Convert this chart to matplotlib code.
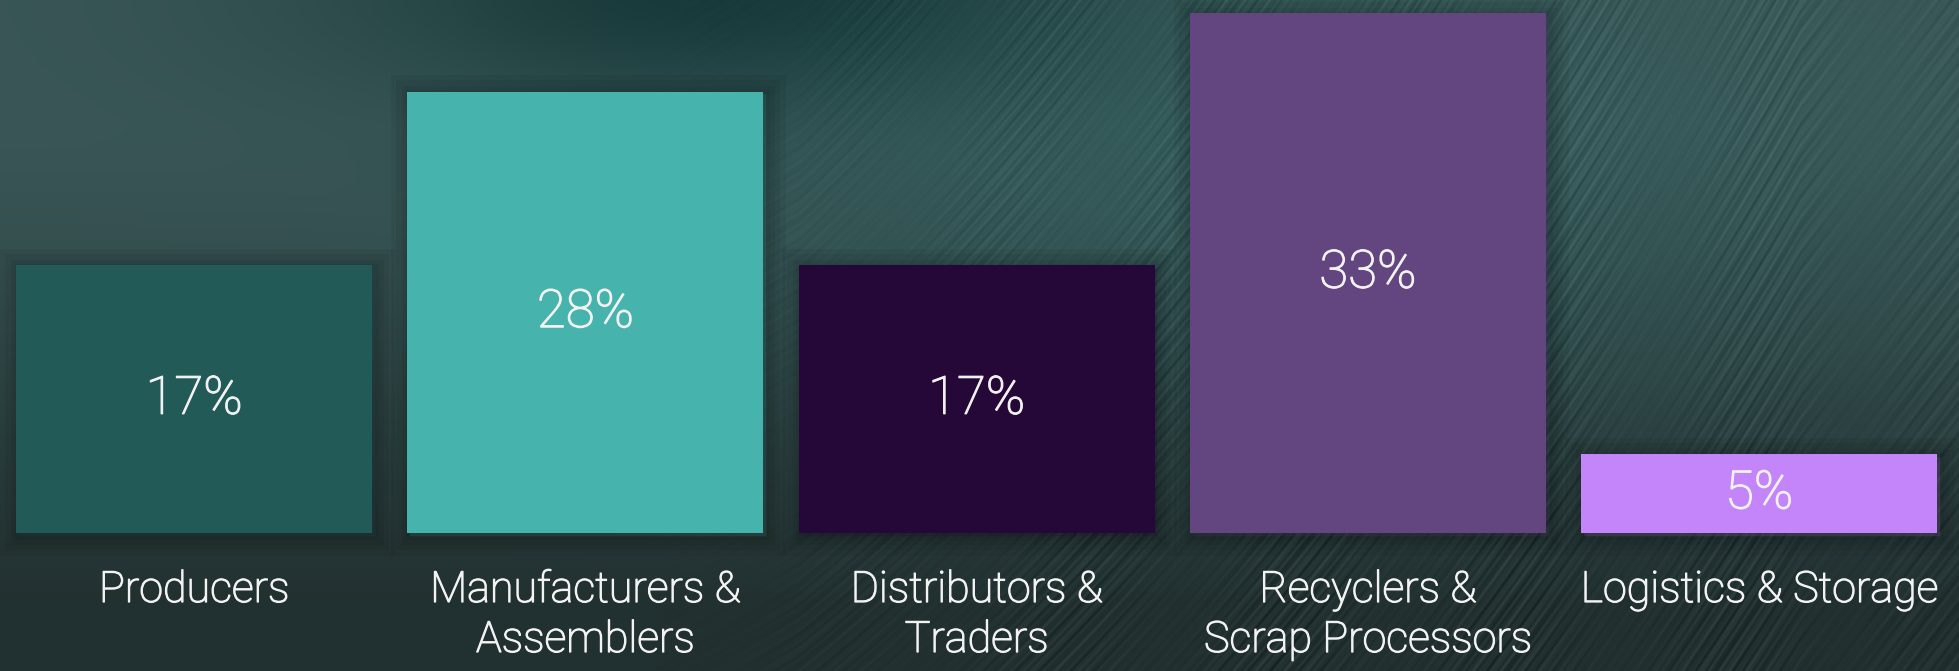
import numpy as np
import matplotlib
matplotlib.use("Agg")
import matplotlib.pyplot as plt
import matplotlib.patheffects as pe

# share of companies by segment (%)
categories = ["Producers", "Manufacturers &\nAssemblers", "Distributors &\nTraders",
              "Recyclers &\nScrap Processors", "Logistics & Storage"]
shares = [17, 28, 17, 33, 5]
bar_colors = ["#225a58", "#47b3ad", "#260838", "#634580", "#c385f9"]

W, H, DPI = 1959, 671, 100
base_px = 533          # baseline of the bars, pixels from top
px_per_unit = 15.76    # pixels per percentage point

fig = plt.figure(figsize=(W / DPI, H / DPI), dpi=DPI)

# ---- background: dark teal gradient with diagonal streaks ----
yy, xx = np.mgrid[0:H, 0:W].astype(float)
top = np.array([58, 86, 86]) / 255
bot = np.array([34, 48, 48]) / 255
t = np.clip((yy - 120) / 480, 0, 1)[..., None] ** 1.3
img = top * (1 - t) + bot * t

# darker patch near the top middle
dark = np.array([25, 56, 56]) / 255
d = np.exp(-(((xx - 720) / 380) ** 2 + ((yy + 10) / 120) ** 2))[..., None]
img = img * (1 - d) + dark * d

# slightly brighter teal band across the middle-right
glow = np.exp(-(((xx - 1250) / 650) ** 2 + ((yy - 170) / 240) ** 2))[..., None]
img = img + glow * np.array([-0.01, 0.025, 0.025])

# streaks: lines rising to the right, bending steeper towards the right
m = 0.6 + 0.7 * np.clip((xx - 800) / 1000, 0, 1)
nrm = np.sqrt(1 + m ** 2)
u = (m * xx + yy) / nrm
v = (xx - m * yy) / nrm
s = (0.5 * np.sin(2 * np.pi * u / 8.7) + 0.3 * np.sin(2 * np.pi * u / 21.0 + 1.3)
     + 0.25 * np.sin(2 * np.pi * u / 4.9 + 0.7))
s = s * (0.6 + 0.4 * np.sin(2 * np.pi * v / 340 + u / 37.0))
mask = np.clip((xx - 650) / 500, 0, 1) * (1 - 0.4 * np.clip((xx - 1750) / 200, 0, 1))
img = img + (0.055 * s * mask)[..., None]
img = np.clip(img, 0, 1)

bg = fig.add_axes([0, 0, 1, 1])
bg.imshow(img, aspect="auto", interpolation="bilinear")
bg.axis("off")

# ---- bars ----
ax = fig.add_axes([0, 0, 1, 1])
ax.patch.set_alpha(0)
x = np.arange(len(categories))
ax.set_xlim(-0.496, 4.511)
ax.set_ylim(-(H - base_px) / px_per_unit, base_px / px_per_unit)
ax.axis("off")

# soft dark halo around each bar
shadow = [pe.Stroke(linewidth=w, foreground="black", alpha=0.05, offset=(2, -2))
          for w in (28, 20, 12, 6)]
bars = ax.bar(x, shares, width=0.91, color=bar_colors, linewidth=0)
for b in bars:
    b.set_path_effects(shadow + [pe.Normal()])

font = "Roboto"
txt_color = "#f2f2f2"
# light face, thickened a little
thick = [pe.Stroke(linewidth=0.9, foreground=txt_color), pe.Normal()]

for xi, val in zip(x, shares):
    ax.text(xi, val / 2, f"{val}%", ha="center", va="center", color=txt_color,
            fontsize=38, family=font, fontweight="light", path_effects=thick)

# category names under each bar, one text per line
line_px = 50
for xi, name in zip(x, categories):
    for k, line in enumerate(name.split("\n")):
        y_px = 602 + k * line_px
        ax.text(xi, (base_px - y_px) / px_per_unit, line, ha="center", va="baseline",
                color=txt_color, fontsize=31, family=font, fontweight="light",
                path_effects=thick)

fig.savefig("out.png", dpi=DPI)
